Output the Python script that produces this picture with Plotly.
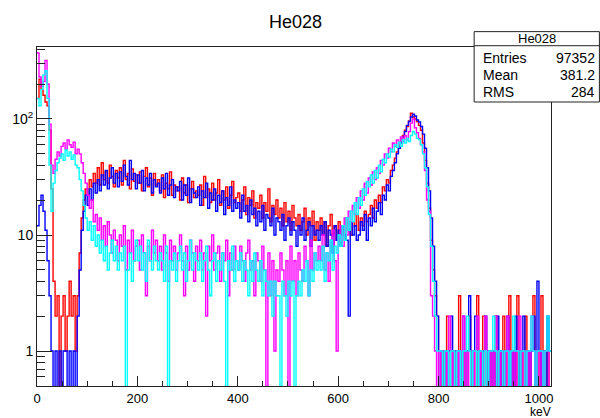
import numpy as np
import plotly.graph_objects as go

# ---------------- data (4 keV bins, 0..1024 keV) ----------------
bin_width = 4
x_max = 1024

red_counts = [
    150, 220, 180, 160, 140, 130, 80, 25, 4, 2,
    3, 0, 2, 3, 1, 2, 4, 2, 3, 1,
    3, 7, 14, 20, 25, 22, 30, 26, 34, 28,
    38, 27, 42, 30, 35, 28, 40, 32, 26, 36,
    31, 38, 27, 44, 30, 34, 25, 37, 29, 33,
    28, 35, 24, 32, 38, 26, 31, 22, 34, 27,
    30, 24, 33, 21, 28, 25, 35, 22, 27, 24,
    26, 20, 31, 23, 27, 19, 25, 29, 21, 24,
    22, 27, 18, 32, 21, 25, 19, 28, 20, 23,
    30, 18, 24, 20, 26, 17, 22, 29, 19, 21,
    23, 16, 20, 26, 15, 21, 18, 24, 14, 19,
    17, 22, 14, 19, 16, 25, 13, 18, 15, 20,
    14, 17, 12, 19, 13, 16, 11, 18, 14, 12,
    15, 11, 13, 17, 10, 14, 12, 16, 9, 13,
    11, 14, 10, 13, 8, 12, 15, 10, 12, 9,
    13, 10, 12, 9, 14, 11, 10, 13, 12, 15,
    11, 14, 12, 16, 13, 15, 18, 14, 20, 17,
    22, 19, 26, 24, 30, 28, 36, 40, 46, 52,
    58, 64, 72, 80, 86, 96, 112, 104, 100, 95,
    88, 80, 62, 44, 28, 17, 9, 5, 3, 2,
    1, 0, 1, 0, 2, 1, 0, 1, 0, 1,
    3, 0, 1, 0, 1, 2, 0, 1, 0, 3,
    1, 0, 2, 0, 1, 0, 1, 0, 2, 0,
    1, 0, 2, 0, 1, 3, 0, 1, 0, 3,
    0, 1, 0, 2, 1, 0, 1, 3, 0, 1,
    0, 3, 1, 0, 1, 0,
]

blue_counts = [
    12, 18, 22, 16, 11, 6, 3, 1, 0, 1,
    0, 1, 0, 1, 1, 0, 1, 0, 1, 0,
    2, 5, 11, 16, 22, 18, 25, 20, 28, 23,
    30, 24, 33, 27, 36, 25, 31, 38, 28, 34,
    26, 35, 29, 40, 32, 27, 44, 30, 34, 25,
    33, 28, 36, 24, 31, 27, 34, 23, 30, 26,
    28, 23, 31, 25, 34, 22, 27, 30, 21, 26,
    24, 29, 20, 27, 22, 31, 19, 25, 23, 21,
    26, 18, 24, 21, 28, 17, 23, 20, 25, 16,
    22, 19, 24, 15, 21, 18, 26, 16, 20, 17,
    19, 14, 22, 16, 18, 13, 20, 15, 17, 12,
    16, 13, 18, 11, 15, 14, 12, 17, 10, 14,
    13, 11, 15, 9, 12, 14, 10, 13, 11, 8,
    12, 10, 14, 9, 11, 13, 8, 12, 10, 11,
    9, 12, 10, 13, 8, 11, 10, 7, 12, 9,
    11, 8, 12, 10, 9, 2, 13, 10, 12, 9,
    10, 13, 11, 15, 9, 14, 12, 17, 13, 16,
    19, 15, 22, 20, 27, 24, 32, 36, 42, 50,
    56, 62, 70, 78, 88, 95, 104, 110, 106, 98,
    94, 86, 74, 56, 38, 24, 14, 8, 4, 2,
    0, 1, 0, 1, 0, 1, 2, 0, 1, 0,
    1, 0, 2, 0, 1, 3, 0, 1, 2, 0,
    1, 0, 1, 2, 0, 1, 0, 1, 0, 2,
    0, 1, 0, 1, 2, 0, 1, 0, 2, 1,
    0, 1, 2, 0, 1, 0, 1, 2, 0, 4,
    1, 0, 1, 0, 2, 1,
]

magenta_counts = [
    370, 230, 190, 210, 320, 200, 90, 40, 34, 45,
    52, 48, 58, 62, 55, 66, 60, 57, 63, 50,
    55, 50, 42, 34, 28, 22, 17, 20, 13, 15,
    11, 14, 9, 12, 8, 13, 10, 7, 11, 9,
    6, 10, 8, 12, 5, 9, 7, 11, 6, 8,
    9, 5, 10, 7, 3, 8, 6, 11, 7, 9,
    6, 8, 5, 10, 7, 4, 9, 6, 8, 5,
    7, 10, 6, 3, 8, 5, 9, 7, 4, 8,
    6, 9, 5, 7, 2, 8, 6, 10, 5, 7,
    8, 4, 7, 6, 9, 3, 7, 5, 8, 6,
    5, 8, 6, 4, 7, 9, 5, 6, 3, 7,
    6, 4, 8, 5, 0, 7, 3, 6, 1, 5,
    4, 7, 5, 3, 6, 0, 8, 4, 6, 3,
    7, 5, 4, 8, 6, 3, 9, 5, 7, 6,
    8, 6, 10, 5, 7, 4, 9, 11, 6, 1,
    9, 12, 8, 14, 10, 16, 13, 18, 15, 21,
    17, 24, 20, 28, 23, 31, 27, 35, 30, 38,
    34, 44, 40, 50, 46, 56, 52, 62, 58, 66,
    60, 70, 64, 72, 66, 78, 92, 100, 84, 76,
    68, 60, 52, 36, 20, 16, 3, 2, 1, 0,
    1, 0, 1, 1, 0, 2, 0, 1, 0, 1,
    0, 1, 2, 0, 1, 0, 1, 0, 1, 2,
    0, 1, 0, 2, 1, 0, 1, 0, 2, 0,
    1, 0, 1, 0, 2, 1, 0, 1, 0, 1,
    2, 0, 1, 0, 1, 0, 2, 1, 0, 1,
    0, 1, 0, 1, 1, 0,
]

cyan_counts = [
    150, 130, 180, 240, 260, 150, 40, 16, 28, 36,
    42, 46, 50, 44, 54, 48, 52, 45, 49, 40,
    38, 30, 24, 18, 14, 11, 13, 9, 12, 8,
    10, 7, 9, 6, 8, 5, 7, 9, 6, 8,
    5, 7, 6, 8, 0, 5, 7, 4, 6, 9,
    6, 8, 5, 7, 4, 9, 6, 5, 8, 6,
    5, 7, 6, 4, 8, 0, 6, 5, 7, 4,
    6, 8, 5, 7, 4, 6, 9, 5, 7, 6,
    5, 7, 4, 6, 8, 5, 3, 6, 7, 4,
    6, 5, 7, 4, 0, 6, 5, 8, 4, 6,
    5, 7, 4, 6, 5, 3, 6, 4, 7, 5,
    4, 6, 3, 5, 4, 3, 4, 2, 4, 3,
    3, 0, 4, 3, 2, 4, 3, 4, 0, 3,
    4, 3, 5, 4, 6, 3, 5, 4, 7, 5,
    6, 5, 8, 4, 7, 6, 9, 5, 8, 7,
    10, 8, 12, 9, 14, 11, 16, 13, 19, 15,
    21, 18, 25, 22, 29, 26, 33, 28, 36, 31,
    40, 35, 45, 42, 50, 47, 55, 52, 60, 57,
    63, 58, 66, 62, 68, 64, 72, 78, 74, 68,
    66, 60, 50, 38, 26, 15, 8, 4, 2, 1,
    1, 1, 0, 1, 1, 0, 1, 1, 0, 1,
    1, 0, 1, 1, 2, 1, 0, 1, 1, 0,
    1, 1, 0, 1, 0, 1, 1, 2, 1, 0,
    1, 1, 0, 1, 1, 0, 1, 2, 1, 1,
    0, 1, 1, 0, 1, 1, 2, 1, 0, 1,
    1, 1, 0, 1, 2, 1,
]

series = [
    ("He028", red_counts, "#ff0000"),
    ("blue", blue_counts, "#0000ff"),
    ("magenta", magenta_counts, "#ff00ff"),
    ("cyan", cyan_counts, "#00ffff"),
]

stats_title = "He028"
stats_rows = [("Entries", "97352"), ("Mean", "381.2"), ("RMS", "284")]

x_tick_vals = [0, 200, 400, 600, 800, 1000]
y_tick_vals = [1, 10, 100]
y_tick_text = ["1", "10", "10<sup>2</sup>"]

# ---------------- layout geometry (pixels) ----------------
W, H = 600, 418
L, R, T, B = 36, 49, 47, 29
PW, PH = W - L - R, H - T - B

def px_x(px):
    return (px - L) / PW

def px_y(py):
    return (H - B - py) / PH

edges = np.arange(0, x_max + bin_width, bin_width)

fig = go.Figure()
for name, counts, color in series:
    c = np.asarray(counts, dtype=float)
    assert len(c) == len(edges) - 1, (name, len(c))
    # empty bins are drawn down through the axis floor, as ROOT does on log scale
    y = np.where(c > 0, c, 0.2)
    y = np.append(y, y[-1])
    fig.add_trace(go.Scatter(
        x=edges, y=y, mode="lines", name=name,
        line=dict(color=color, width=1.4, shape="hv"),
        hoverinfo="skip", showlegend=False,
    ))

FONT = "Liberation Sans, Arial, sans-serif"

minor_y = [v * 10 ** d for d in (-1, 0, 1, 2) for v in range(2, 10)]
minor_y = [v for v in minor_y if 0.5 <= v <= 420 and v not in (1, 10, 100)]

fig.update_layout(
    width=W, height=H,
    margin=dict(l=L, r=R, t=T, b=B, pad=0),
    paper_bgcolor="white", plot_bgcolor="white",
    font=dict(family=FONT, size=13, color="black"),
    showlegend=False,
    xaxis=dict(
        range=[0, x_max], showgrid=False, zeroline=False,
        showline=True, linecolor="#222", linewidth=1, mirror=True,
        tickmode="array", tickvals=x_tick_vals,
        ticks="inside", ticklen=10, tickcolor="#222", tickwidth=1,
        tickfont=dict(size=13),
        minor=dict(dtick=50, tick0=0, ticks="inside", ticklen=5,
                   tickcolor="#222", showgrid=False),
    ),
    yaxis=dict(
        type="log", range=[np.log10(0.5), 2.62],
        showgrid=False, zeroline=False,
        showline=True, linecolor="#222", linewidth=1, mirror=True,
        tickmode="array", tickvals=y_tick_vals, ticktext=y_tick_text,
        ticks="inside", ticklen=15, tickcolor="#222", tickwidth=1,
        tickfont=dict(size=14),
        minor=dict(tickmode="array", tickvals=minor_y, ticks="inside",
                   ticklen=8, tickcolor="#222", showgrid=False),
    ),
)

# title
fig.add_annotation(
    text="He028", xref="paper", yref="paper",
    x=px_x(295), y=px_y(22), xanchor="center", yanchor="middle",
    showarrow=False, font=dict(size=18, family=FONT),
)

# axis unit (just under the tick labels, at the right end of the axis)
fig.add_annotation(
    text="keV", xref="paper", yref="paper",
    x=px_x(552), y=px_y(407), xanchor="right", yanchor="top",
    showarrow=False, borderpad=0, font=dict(size=12, family=FONT),
)

# stats box
bx0, bx1, by0, by1, bsep = 474, 599.5, 31.5, 102.5, 45.7
fig.add_shape(type="rect", xref="paper", yref="paper",
              x0=px_x(bx0), x1=px_x(bx1), y0=px_y(by1), y1=px_y(by0),
              line=dict(color="#222", width=1), fillcolor="white", layer="above")
fig.add_shape(type="line", xref="paper", yref="paper",
              x0=px_x(bx0), x1=px_x(bx1), y0=px_y(bsep), y1=px_y(bsep),
              line=dict(color="#222", width=1), layer="above")
fig.add_annotation(
    text=stats_title, xref="paper", yref="paper",
    x=px_x((bx0 + bx1) / 2), y=px_y((by0 + bsep) / 2),
    xanchor="center", yanchor="middle", showarrow=False,
    font=dict(size=13, family=FONT),
)
row_centers = [58, 75, 92]
for (lab, val), cy in zip(stats_rows, row_centers):
    fig.add_annotation(text=lab, xref="paper", yref="paper",
                       x=px_x(481), y=px_y(cy), xanchor="left", yanchor="middle",
                       showarrow=False, font=dict(size=14, family=FONT))
    fig.add_annotation(text=val, xref="paper", yref="paper",
                       x=px_x(597), y=px_y(cy), xanchor="right", yanchor="middle",
                       showarrow=False, font=dict(size=14, family=FONT))

# remove the browser's default page margin so the figure sits at the window origin
fig.write_html("out.html", config={"displayModeBar": False},
               post_script="document.body.style.margin='0';")
